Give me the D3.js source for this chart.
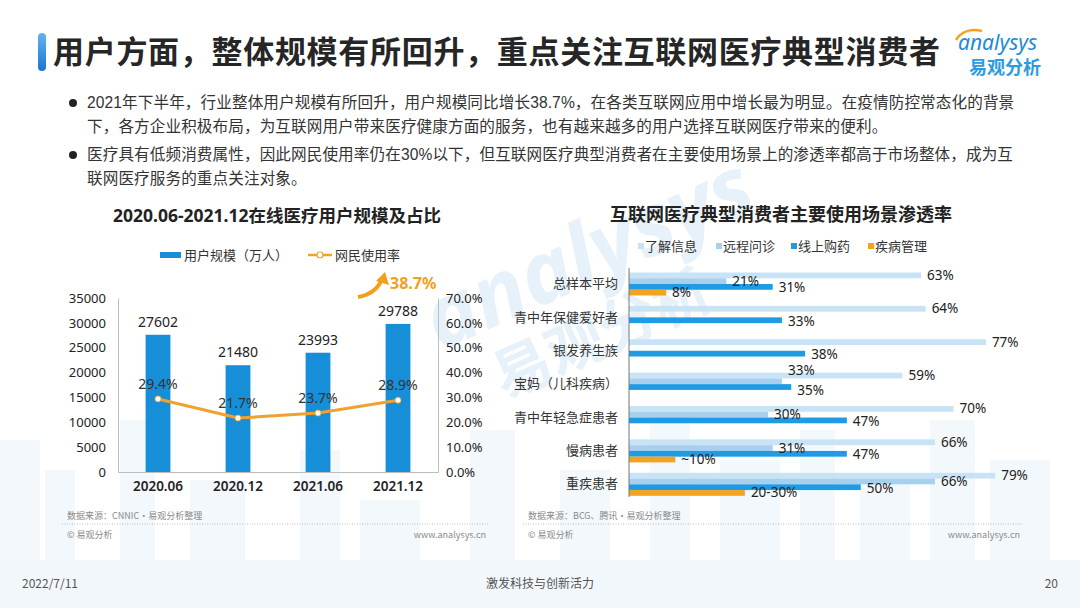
<!DOCTYPE html>
<html>
<head>
<meta charset="utf-8">
<title>互联网医疗用户规模</title>
<script src="https://cdn.jsdelivr.net/npm/d3@7"></script>
<style>
  body { margin: 0; background: #fff; }
  svg { display: block; font-family: "Noto Sans", "Noto Sans CJK SC", sans-serif; }
</style>
</head>
<body>
<script>
// ---- data ----
var months = ["2020.06", "2020.12", "2021.06", "2021.12"];
var users = [27602, 21480, 23993, 29788];
var rates = [29.4, 21.7, 23.7, 28.9];
var userTicks = [0, 5000, 10000, 15000, 20000, 25000, 30000, 35000];
var rateTicks = [0, 10, 20, 30, 40, 50, 60, 70];

var groups = ["总样本平均", "青中年保健爱好者", "银发养生族", "宝妈（儿科疾病）", "青中年轻急症患者", "慢病患者", "重疾患者"];
var scenes = ["了解信息", "远程问诊", "线上购药", "疾病管理"];
var infoVals = [63, 64, 77, 59, 70, 66, 79];
var consultVals = [21, null, null, 33, 30, 31, 66];
var drugVals = [31, 33, 38, 35, 47, 47, 50];
var mgmtVals = [8, null, null, null, null, 10, 25];
var mgmtLabels = ["8%", null, null, null, null, "~10%", "20-30%"];

var sceneColors = ["#c7e3f5", "#a7cfee", "#1e9be2", "#f2a31f"];

var W = 1080, H = 608;
var svg = d3.select("body").append("svg").attr("width", W).attr("height", H);

// ---- background skyline (decoration) ----
var sky = svg.append("g").attr("fill", "#f3f8fd");
[[0, 440, 40], [45, 470, 30], [120, 420, 35], [190, 480, 55], [300, 450, 40], [360, 500, 60],
 [470, 430, 45], [560, 470, 50], [650, 410, 40], [720, 460, 60], [800, 430, 35], [860, 480, 50],
 [930, 420, 45], [990, 460, 60]].forEach(function (b) {
  sky.append("rect").attr("x", b[0]).attr("y", b[1]).attr("width", b[2]).attr("height", H - b[1]);
});
svg.append("rect").attr("x", 0).attr("y", 560).attr("width", W).attr("height", 48).attr("fill", "#f2f7fc");

// ---- watermark ----
var wm = svg.append("g").attr("transform", "translate(600,280) rotate(-24)").attr("fill", "#e6f1fa");
wm.append("text").attr("x", 0).attr("y", 0).attr("text-anchor", "middle")
  .attr("font-size", 86).attr("font-style", "italic").attr("font-weight", 700).text("analysys");
wm.append("text").attr("x", -20).attr("y", 70).attr("text-anchor", "middle")
  .attr("font-size", 58).attr("font-weight", 700).text("易观分析");

// ---- header ----
var grad = svg.append("defs").append("linearGradient").attr("id", "tbar")
  .attr("x1", 0).attr("y1", 0).attr("x2", 0).attr("y2", 1);
grad.append("stop").attr("offset", "0").attr("stop-color", "#62b4f0");
grad.append("stop").attr("offset", "1").attr("stop-color", "#1a74d6");
svg.append("rect").attr("x", 38).attr("y", 33).attr("width", 8).attr("height", 38).attr("rx", 4).attr("fill", "url(#tbar)");
svg.append("text").attr("x", 53).attr("y", 63).attr("font-size", 31).attr("font-weight", 700)
  .attr("letter-spacing", 0.7).attr("fill", "#262626").text("用户方面，整体规模有所回升，重点关注互联网医疗典型消费者");

// logo
svg.append("path").attr("d", "M956,40 Q964,27 982,31").attr("fill", "none").attr("stroke", "#f2a31f").attr("stroke-width", 2.5);
svg.append("text").attr("x", 958).attr("y", 50).attr("font-size", 21).attr("font-style", "italic")
  .attr("fill", "#1f8ad6").text("analysys");
svg.append("text").attr("x", 969).attr("y", 74).attr("font-size", 18).attr("font-weight", 700)
  .attr("fill", "#2c9be2").text("易观分析");

// ---- bullets ----
var bullets = [
  ["2021年下半年，行业整体用户规模有所回升，用户规模同比增长38.7%，在各类互联网应用中增长最为明显。在疫情防控常态化的背景",
   "下，各方企业积极布局，为互联网用户带来医疗健康方面的服务，也有越来越多的用户选择互联网医疗带来的便利。"],
  ["医疗具有低频消费属性，因此网民使用率仍在30%以下，但互联网医疗典型消费者在主要使用场景上的渗透率都高于市场整体，成为互",
   "联网医疗服务的重点关注对象。"]
];
var bg = svg.append("g").attr("font-family", "'Liberation Sans','Noto Sans CJK SC',sans-serif")
  .attr("font-size", 15.6).attr("letter-spacing", 0.1).attr("fill", "#333");
bullets.forEach(function (lines, i) {
  var y0 = 108 + i * 52;
  bg.append("circle").attr("cx", 73).attr("cy", y0 - 5).attr("r", 4).attr("fill", "#222");
  lines.forEach(function (t, k) {
    bg.append("text").attr("x", 87).attr("y", y0 + k * 24).text(t);
  });
});

// ---- left chart ----
var L = svg.append("g");
L.append("text").attr("x", 277).attr("y", 222).attr("text-anchor", "middle").attr("font-size", 17.5)
  .attr("font-weight", 700).attr("fill", "#222").text("2020.06-2021.12在线医疗用户规模及占比");

var x = d3.scaleBand().domain(months).range([118, 438]).paddingInner(0.69).paddingOuter(0.345);
var y = d3.scaleLinear().domain([0, 35000]).range([472, 298]);
var yR = d3.scaleLinear().domain([0, 70]).range([472, 298]);

// legend
L.append("rect").attr("x", 160).attr("y", 252).attr("width", 21).attr("height", 6).attr("fill", "#168fd8");
L.append("text").attr("x", 184).attr("y", 259.5).attr("font-size", 13).attr("fill", "#333").text("用户规模（万人）");
L.append("line").attr("x1", 308).attr("x2", 332).attr("y1", 255).attr("y2", 255).attr("stroke", "#f0a22e").attr("stroke-width", 2.5);
L.append("circle").attr("cx", 320).attr("cy", 255).attr("r", 3).attr("fill", "#fff").attr("stroke", "#f0a22e").attr("stroke-width", 1.2);
L.append("text").attr("x", 335).attr("y", 259.5).attr("font-size", 13).attr("fill", "#333").text("网民使用率");

function styleAxis(g, size, weight) {
  g.select(".domain").attr("stroke", "#bdbdbd");
  g.selectAll("text").attr("font-size", size).attr("fill", "#222").attr("font-weight", weight || 400)
    .attr("font-family", "'Noto Sans','Noto Sans CJK SC',sans-serif");
}

L.append("g").attr("transform", "translate(118,0)")
  .call(d3.axisLeft(y).tickValues(userTicks).tickSize(0).tickPadding(12).tickFormat(d3.format("d")))
  .call(styleAxis, 13);
L.append("g").attr("transform", "translate(438,0)")
  .call(d3.axisRight(yR).tickValues(rateTicks).tickSize(0).tickPadding(8).tickFormat(function (d) { return d.toFixed(1) + "%"; }))
  .call(styleAxis, 13);
L.append("g").attr("transform", "translate(0,472)")
  .call(d3.axisBottom(x).tickSize(0).tickPadding(9))
  .call(styleAxis, 13.5, 600);

L.selectAll(".bar").data(users).enter().append("rect")
  .attr("x", function (d, i) { return x(months[i]); })
  .attr("y", function (d) { return y(d); })
  .attr("width", x.bandwidth())
  .attr("height", function (d) { return y(0) - y(d); })
  .attr("fill", "#168fd8");
L.selectAll(".blab").data(users).enter().append("text")
  .attr("x", function (d, i) { return x(months[i]) + x.bandwidth() / 2; })
  .attr("y", function (d) { return y(d) - 8; })
  .attr("text-anchor", "middle").attr("font-size", 14).attr("fill", "#222").text(function (d) { return d; });

var cx = function (d, i) { return x(months[i]) + x.bandwidth() / 2; };
L.append("path").datum(rates)
  .attr("d", d3.line().x(cx).y(function (d) { return yR(d); }))
  .attr("fill", "none").attr("stroke", "#f0a22e").attr("stroke-width", 3);
L.selectAll(".pt").data(rates).enter().append("circle")
  .attr("cx", cx).attr("cy", function (d) { return yR(d); }).attr("r", 3)
  .attr("fill", "#fffbe8").attr("stroke", "#f0a22e").attr("stroke-width", 0.8);
L.selectAll(".rlab").data(rates).enter().append("text")
  .attr("x", cx).attr("y", function (d) { return yR(d) - 10; })
  .attr("text-anchor", "middle").attr("font-size", 14).attr("fill", "#333")
  .text(function (d) { return d.toFixed(1) + "%"; });

// growth arrow
L.append("path").attr("d", "M358,297 Q376,294 382,279").attr("fill", "none").attr("stroke", "#f2a01c").attr("stroke-width", 4);
L.append("path").attr("d", "M376,281 L385,272 L389,285 Z").attr("fill", "#f2a01c");
L.append("text").attr("x", 390).attr("y", 289).attr("font-size", 16).attr("font-weight", 700)
  .attr("fill", "#f2a01c").text("38.7%");

// ---- right chart ----
var R = svg.append("g");
R.append("text").attr("x", 781).attr("y", 221).attr("text-anchor", "middle").attr("font-size", 18)
  .attr("font-weight", 700).attr("fill", "#222").text("互联网医疗典型消费者主要使用场景渗透率");

var legX = [638, 716, 791, 868];
scenes.forEach(function (s, j) {
  R.append("rect").attr("x", legX[j]).attr("y", 243).attr("width", 6).attr("height", 6).attr("fill", sceneColors[j]);
  R.append("text").attr("x", legX[j] + 7).attr("y", 250.5).attr("font-size", 13).attr("fill", "#333").text(s);
});

var yB = d3.scaleBand().domain(groups).range([267.3, 501]);
var yS = d3.scaleBand().domain(scenes).range([0, 23]);
var xR = d3.scaleLinear().domain([0, 80]).range([629, 999.8]);

var rows = [];
groups.forEach(function (g, i) {
  var vals = [infoVals[i], consultVals[i], drugVals[i], mgmtVals[i]];
  var labs = [infoVals[i] + "%", consultVals[i] + "%", drugVals[i] + "%", mgmtLabels[i]];
  vals.forEach(function (v, j) {
    var shift = 0;
    // consult label right above a drug label of nearly the same length: pull them apart
    if (j === 1 && drugVals[i] != null && Math.abs(drugVals[i] - v) < 6) shift = -11;
    if (j === 2 && consultVals[i] != null && Math.abs(consultVals[i] - v) < 6) shift = 2.5;
    if (v != null) rows.push({ g: g, s: scenes[j], j: j, v: v, lab: labs[j], shift: shift });
  });
});
var off = (yB.bandwidth() - 23) / 2;

R.selectAll(".hbar").data(rows).enter().append("rect")
  .attr("x", xR(0))
  .attr("y", function (d) { return yB(d.g) + off + yS(d.s); })
  .attr("width", function (d) { return xR(d.v) - xR(0); })
  .attr("height", yS.bandwidth())
  .attr("fill", function (d) { return sceneColors[d.j]; });
R.selectAll(".hlab").data(rows).enter().append("text")
  .attr("x", function (d) { return xR(d.v) + 6; })
  .attr("y", function (d) { return yB(d.g) + off + yS(d.s) + yS.bandwidth() / 2 + 4.5 + d.shift + (d.j === 2 ? 1 : 0); })
  .attr("font-size", 13.5).attr("fill", "#222").text(function (d) { return d.lab; });

R.append("g").attr("transform", "translate(629,0)")
  .call(d3.axisLeft(yB).tickSize(0).tickPadding(11))
  .call(styleAxis, 13)
  .call(function (g) {
    g.select(".domain").attr("stroke", "#777").attr("d", "M0,268V497");
    g.selectAll("text").attr("fill", "#333").attr("font-family", "'Noto Sans CJK SC',sans-serif");
  });

// ---- notes & footer ----
var notes = [
  { x0: 62, x1: 488, src: "数据来源：CNNIC·易观分析整理" },
  { x0: 523, x1: 1022, src: "数据来源：BCG、腾讯·易观分析整理" }
];
var nf = svg.append("g").attr("font-size", 9).attr("fill", "#8a8a8a").attr("font-family", "'Noto Sans CJK SC',sans-serif");
notes.forEach(function (n) {
  nf.append("text").attr("x", n.x0 + 5).attr("y", 519).text(n.src);
  nf.append("line").attr("x1", n.x0).attr("x2", n.x1).attr("y1", 524).attr("y2", 524)
    .attr("stroke", "#aaa").attr("stroke-width", 0.8).attr("stroke-dasharray", "1,1.5");
  nf.append("text").attr("x", n.x0 + 5).attr("y", 538).text("© 易观分析");
  nf.append("text").attr("x", n.x1 - 2).attr("y", 538).attr("text-anchor", "end").text("www.analysys.cn");
});

var ft = svg.append("g").attr("font-size", 12).attr("fill", "#555").attr("font-family", "'Noto Sans CJK SC',sans-serif");
ft.append("text").attr("x", 22).attr("y", 588).text("2022/7/11");
ft.append("text").attr("x", 540).attr("y", 588).attr("text-anchor", "middle").text("激发科技与创新活力");
ft.append("text").attr("x", 1058).attr("y", 588).attr("text-anchor", "end").text("20");
</script>
</body>
</html>
